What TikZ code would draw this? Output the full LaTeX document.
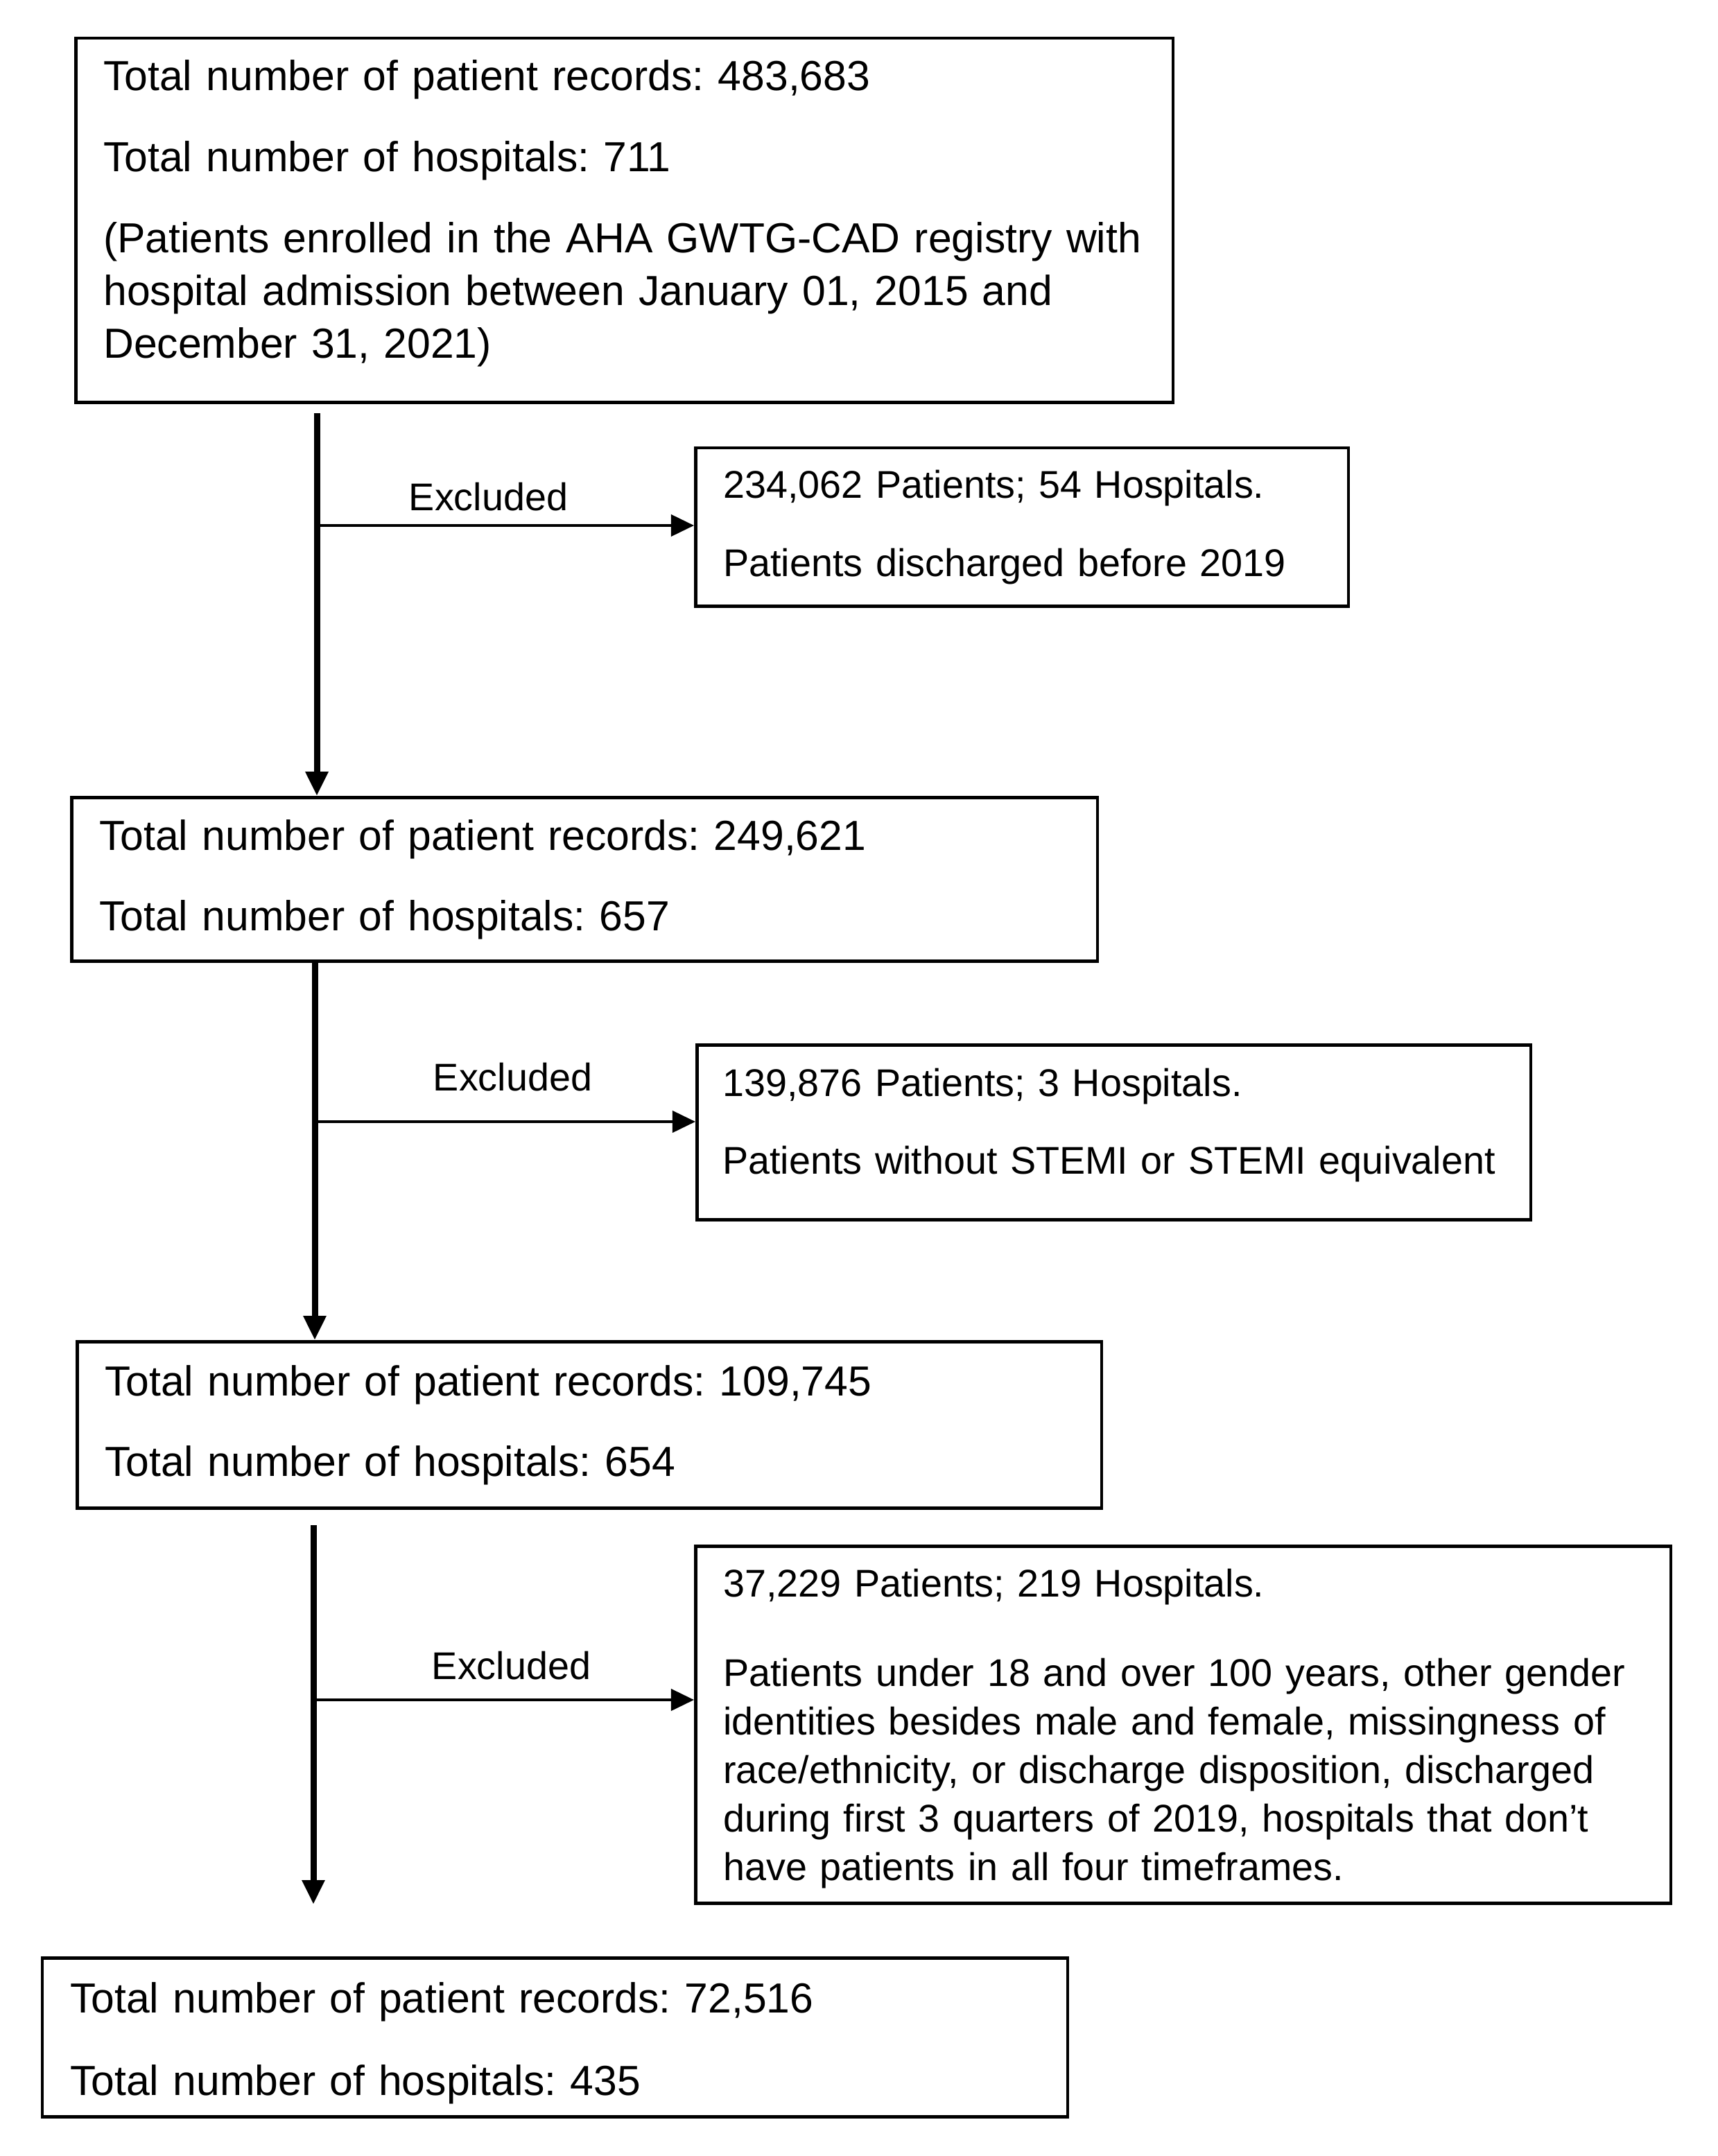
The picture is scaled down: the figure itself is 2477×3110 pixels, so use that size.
\documentclass[tikz,border=0pt]{standalone}
\usepackage{fontspec}
\setmainfont{Liberation Sans}
\usetikzlibrary{positioning,quotes,arrows.meta}
\frenchspacing

\begin{document}
\begin{tikzpicture}[
    x = 0.01cm, y = -0.01cm,
    every node/.style = {font=\fontsize{17.25pt}{21.6pt}\selectfont},
    countbox/.style = {draw, line width=0.045cm, anchor=north west,
      align=left, inner xsep=0.40cm, inner ysep=0pt},
    exclbox/.style = {countbox, font=\fontsize{15.84pt}{19.9pt}\selectfont},
    flow/.style = {draw, line width=0.09cm, -{Triangle[width=0.31cm, length=0.35cm]}},
    every edge/.style = {draw, line width=0.04cm, -{Triangle[width=0.31cm, length=0.33cm]}},
    every edge quotes/.style = {auto, inner sep=0pt,
      font=\fontsize{15.84pt}{19.9pt}\selectfont}]
  \useasboundingbox (0,0) rectangle (2477,3110);
  % record counts down the left side
  \node (rec1) [countbox, minimum width=15.82cm, minimum height=5.25cm,
    text width=15.02cm] at (107,53)
    {Total number of patient records: 483,683\\[0.41cm]
     Total number of hospitals: 711\\[0.41cm]
     (Patients enrolled in the AHA GWTG-CAD registry with\\
     hospital admission between January 01, 2015 and\\
     December 31, 2021)\rule[-0.33cm]{0pt}{0.33cm}};
  \node (rec2) [countbox, minimum width=14.79cm, minimum height=2.36cm,
    text width=13.99cm, below=5.65cm of rec1.south west, anchor=north west,
    xshift=-0.06cm]
    {Total number of patient records: 249,621\\[0.40cm]
     Total number of hospitals: 657};
  \node (rec3) [countbox, minimum width=14.77cm, minimum height=2.40cm,
    text width=13.97cm, below=5.44cm of rec2.south west, anchor=north west,
    xshift=0.08cm]
    {Total number of patient records: 109,745\\[0.40cm]
     Total number of hospitals: 654};
  \node (rec4) [countbox, minimum width=14.78cm, minimum height=2.29cm,
    text width=13.98cm, below=6.44cm of rec3.south west, anchor=north west,
    xshift=-0.50cm]
    {\rule{0pt}{0.60cm}Total number of patient records: 72,516\\[0.43cm]
     Total number of hospitals: 435};
  % exclusions on the right
  \node (excl1) [exclbox, minimum width=9.41cm, minimum height=2.28cm,
    text width=8.61cm] at (1001,644)
    {234,062 Patients; 54 Hospitals.\\[0.43cm]
     Patients discharged before 2019};
  \node (excl2) [exclbox, minimum width=12.02cm, minimum height=2.52cm,
    inner xsep=0.37cm, text width=11.28cm] at (1003,1505)
    {139,876 Patients; 3 Hospitals.\\[0.42cm]
     Patients without STEMI or STEMI equivalent\rule[-0.32cm]{0pt}{0.32cm}};
  \node (excl3) [exclbox, minimum width=14.06cm, minimum height=5.15cm,
    text width=13.26cm] at (1001,2228)
    {\rule{0pt}{0.51cm}37,229 Patients; 219 Hospitals.\\[0.59cm]
     Patients under 18 and over 100 years, other gender\\
     identities besides male and female, missingness of\\
     race/ethnicity, or discharge disposition, discharged\\
     during first 3 quarters of 2019, hospitals that don’t\\
     have patients in all four timeframes.};
  \coordinate (split1) at (457,758);
  \coordinate (split2) at (454,1618);
  \coordinate (split3) at (452,2452);
  \coordinate (stop3)  at (452,2747);
  \draw[flow, shorten <=0.13cm] (split1 |- rec1.south) -- (split1 |- rec2.north);
  \draw[flow] (split2 |- rec2.south) -- (split2 |- rec3.north);
  \draw[flow, shorten <=0.22cm] (split3 |- rec3.south) -- (stop3);
  \draw (split1) edge["Excluded" {pos=0.455, yshift=0.19cm}] (split1 -| excl1.west);
  \draw (split2) edge["Excluded" {pos=0.52, yshift=0.42cm}] (split2 -| excl2.west);
  \draw (split3) edge["Excluded" {pos=0.52, yshift=0.27cm}] (split3 -| excl3.west);
\end{tikzpicture}
\end{document}
